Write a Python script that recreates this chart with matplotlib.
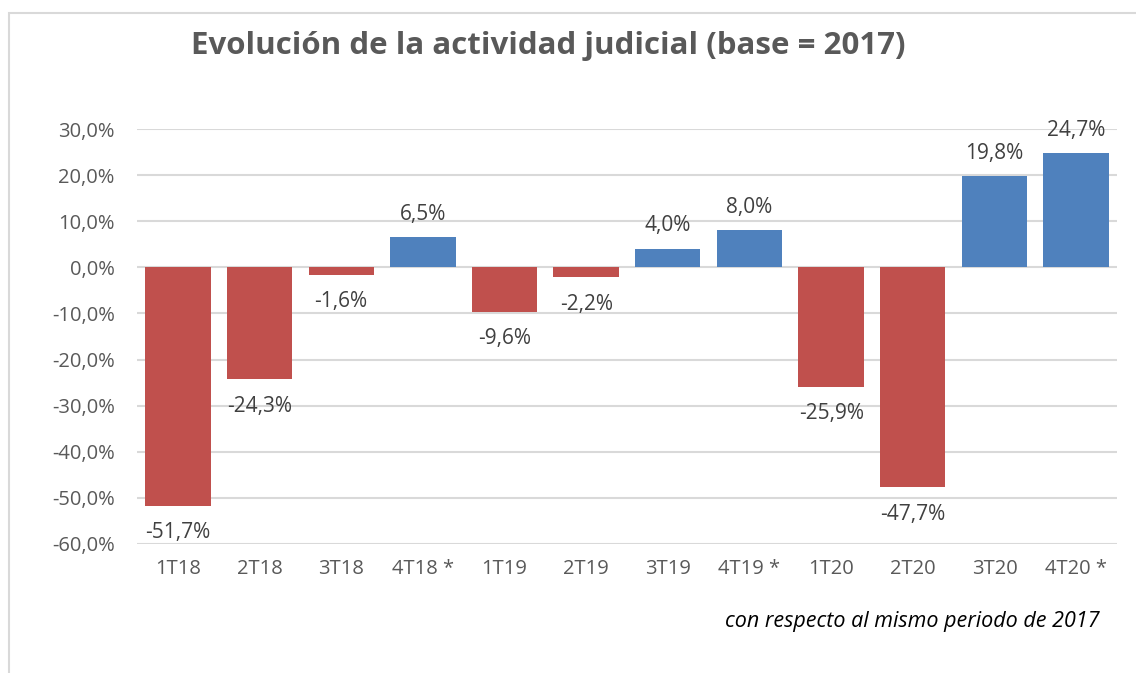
import matplotlib.pyplot as plt
from matplotlib.patches import Rectangle

plt.rcParams['font.family'] = ['Open Sans', 'DejaVu Sans']

periods = ['1T18', '2T18', '3T18', '4T18 *', '1T19', '2T19', '3T19', '4T19 *',
           '1T20', '2T20', '3T20', '4T20 *']
values = [-51.7, -24.3, -1.6, 6.5, -9.6, -2.2, 4.0, 8.0, -25.9, -47.7, 19.8, 24.7]
yticks = [30, 20, 10, 0, -10, -20, -30, -40, -50, -60]

red = '#C0504D'
blue = '#4F81BD'
grey = '#595959'

def pct(v):
    return f'{v:.1f}%'.replace('.', ',')

fig = plt.figure(figsize=(11.36, 6.73), dpi=100)
fig.patches.append(Rectangle((9 / 1136, -0.1), 1.2, 1.1 - 13 / 673,
                             transform=fig.transFigure, fill=False,
                             edgecolor='#D9D9D9', linewidth=1.5))
ax = fig.add_axes([137 / 1136, 1 - 544 / 673, (1117 - 137) / 1136, (544 - 129) / 673])

x = range(len(periods))
colors = [blue if v >= 0 else red for v in values]
ax.bar(x, values, width=0.8, color=colors, zorder=3)

for i, v in zip(x, values):
    if v >= 0:
        ax.annotate(pct(v), (i, v), xytext=(0, 9), textcoords='offset points',
                    ha='center', va='bottom', fontsize=15, color='#404040')
    else:
        ax.annotate(pct(v), (i, v), xytext=(0, -12), textcoords='offset points',
                    ha='center', va='top', fontsize=15, color='#404040')

ax.set_ylim(-60, 30)
ax.set_xlim(-0.5, len(periods) - 0.5)
ax.set_yticks(yticks)
ax.set_yticklabels([pct(t) for t in yticks])
ax.set_xticks(list(x))
ax.set_xticklabels(periods)
ax.tick_params(length=0, labelsize=14.5, colors=grey)
ax.tick_params(axis='y', pad=16)
ax.tick_params(axis='x', pad=11)
ax.grid(axis='y', color='#D9D9D9', linewidth=1.5, zorder=0)
for s in ax.spines.values():
    s.set_visible(False)

fig.text(548 / 1136, 1 - 46 / 673, 'Evolución de la actividad judicial (base = 2017)',
         ha='center', va='center', fontsize=22.5, fontweight='bold', color=grey)
fig.text(1100 / 1136, 1 - 622 / 673, 'con respecto al mismo periodo de 2017',
         ha='right', va='center', fontsize=15.5, style='italic', color='black')

fig.savefig('out.png', dpi=100)
